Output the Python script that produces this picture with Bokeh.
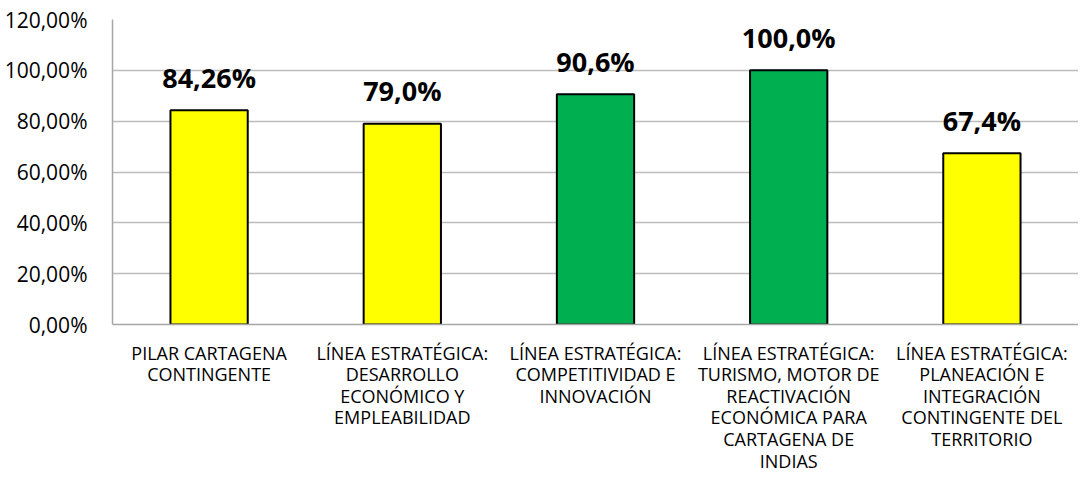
from bokeh.plotting import figure
from bokeh.models import FactorRange, Range1d, ColumnDataSource
from bokeh.embed import file_html
from bokeh.resources import INLINE
from bokeh.core.properties import value

categories = [
    "PILAR CARTAGENA\nCONTINGENTE",
    "LÍNEA ESTRATÉGICA:\nDESARROLLO\nECONÓMICO Y\nEMPLEABILIDAD",
    "LÍNEA ESTRATÉGICA:\nCOMPETITIVIDAD E\nINNOVACIÓN",
    "LÍNEA ESTRATÉGICA:\nTURISMO, MOTOR DE\nREACTIVACIÓN\nECONÓMICA PARA\nCARTAGENA DE\nINDIAS",
    "LÍNEA ESTRATÉGICA:\nPLANEACIÓN E\nINTEGRACIÓN\nCONTINGENTE DEL\nTERRITORIO",
]
values = [84.26, 79.0, 90.6, 100.0, 67.4]
value_labels = ["84,26%", "79,0%", "90,6%", "100,0%", "67,4%"]
colors = ["#FFFF00", "#FFFF00", "#00B050", "#00B050", "#FFFF00"]
y_ticks = [0, 20, 40, 60, 80, 100, 120]
y_tick_labels = ["0,00%", "20,00%", "40,00%", "60,00%", "80,00%", "100,00%", "120,00%"]

FONT = "Open Sans"

p = figure(width=1078, height=475, output_backend="svg", toolbar_location=None,
           x_range=FactorRange(*categories, range_padding=0),
           y_range=Range1d(0, 120))
p.min_border_left = 112
p.min_border_right = 0
p.min_border_top = 19
p.min_border_bottom = 150
p.outline_line_color = None

src = ColumnDataSource(dict(cat=categories, val=values, lab=value_labels, col=colors))
p.vbar(x="cat", top="val", width=0.4, source=src, fill_color="col",
       line_color="black", line_width=2)
p.text(x="cat", y="val", text="lab", source=src, text_align="center",
       text_baseline="alphabetic", y_offset=-33, text_font=value(FONT),
       text_font_style="bold", text_font_size="27px", text_color="black")

p.yaxis.ticker = y_ticks
p.yaxis.major_label_overrides = {t: l for t, l in zip(y_ticks, y_tick_labels)}
p.yaxis.major_label_text_font = FONT
p.yaxis.major_label_text_font_size = "21px"
p.yaxis.major_label_text_color = "#000000"
p.yaxis.major_label_standoff = 19
p.yaxis.axis_line_color = "#A6A6A6"
p.yaxis.axis_line_width = 1.5
p.yaxis.major_tick_line_color = None
p.yaxis.minor_tick_line_color = None

p.xaxis.major_label_text_font = FONT
p.xaxis.major_label_text_font_size = "18px"
p.xaxis.major_label_text_line_height = 0.9
p.xaxis.major_label_text_color = "#000000"
p.xaxis.major_label_standoff = 10
p.xaxis.axis_line_color = "#A6A6A6"
p.xaxis.axis_line_width = 1.5
p.xaxis.major_tick_line_color = None
p.xaxis.minor_tick_line_color = None
p.xaxis.major_label_orientation = "horizontal"

p.xgrid.grid_line_color = None
p.ygrid.grid_line_color = "#BDBDBD"
p.ygrid.grid_line_width = 1.5

open("out.html", "w").write(file_html(p, INLINE))
